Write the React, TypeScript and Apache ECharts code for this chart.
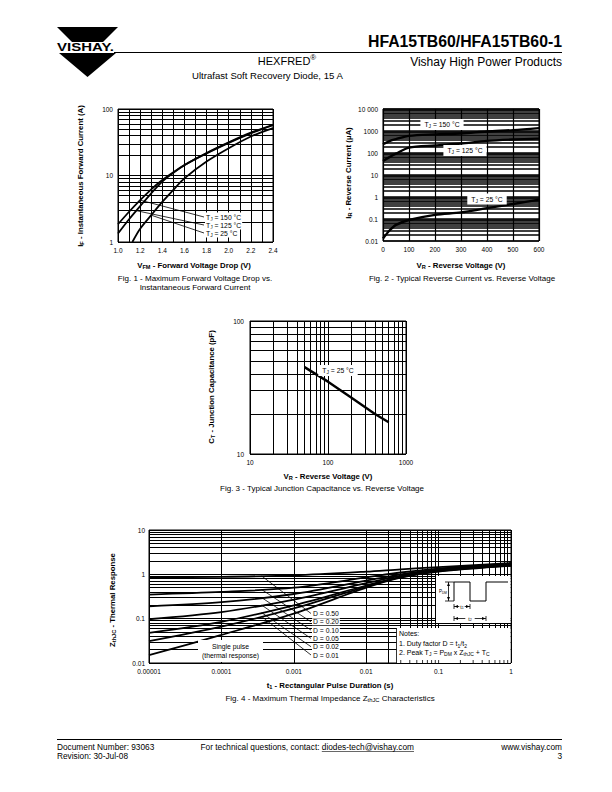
import React, { useEffect, useRef } from "react";
import * as echarts from "echarts";

const FONT = '"Liberation Sans", Arial, Helvetica, sans-serif';

// ---------------- Fig. 1 : forward voltage vs forward current
const fig1V150 = [1.0, 1.1, 1.2, 1.3, 1.4, 1.5, 1.6, 1.8, 2.0, 2.2, 2.4];
const fig1I150 = [1.85, 2.85, 4.26, 6.2, 8.55, 11.2, 14.4, 21.5, 31, 43, 57];
const fig1V125 = [1.0, 1.1, 1.2, 1.3, 1.4, 1.5, 1.6, 1.8, 2.0, 2.2, 2.4];
const fig1I125 = [1.34, 2.2, 3.46, 5.4, 8.1, 11.0, 14.3, 21.8, 31.5, 44, 58];
const fig1V25 = [1.13, 1.2, 1.3, 1.4, 1.5, 1.6, 1.8, 2.0, 2.2, 2.4];
const fig1I25 = [1.0, 1.58, 2.53, 4.0, 6.1, 9.06, 16.2, 25.7, 38.6, 51.6];
const fig1XLabels = ["1.0", "1.2", "1.4", "1.6", "1.8", "2.0", "2.2", "2.4"];
const fig1YLabels = ["1", "10", "100"];

// ---------------- Fig. 2 : reverse current vs reverse voltage
const fig2V = [0, 25, 50, 100, 200, 300, 400, 500, 600];
const fig2I150 = [250, 350, 430, 600, 700, 770, 950, 1100, 1350];
const fig2I125 = [43, 65, 93, 175, 220, 270, 355, 410, 450];
const fig2I25 = [0.013, 0.03, 0.054, 0.09, 0.155, 0.2, 0.31, 0.48, 0.76];
const fig2XLabels = ["0", "100", "200", "300", "400", "500", "600"];
const fig2YLabels = ["0.01", "0.1", "1", "10", "100", "1000", "10 000"];

// ---------------- Fig. 3 : junction capacitance
const fig3V = [50, 100, 200, 400, 600];
const fig3C = [45, 35, 26.5, 20, 17.3];
const fig3XLabels = ["10", "100", "1000"];
const fig3YLabels = ["10", "100"];

// ---------------- Fig. 4 : thermal impedance
const fig4T = [1e-5, 1e-4, 1e-3, 1e-2, 3e-2, 1e-1, 1];
const fig4D50 = [0.86, 0.88, 0.95, 1.15, 1.3, 1.46, 1.8];
const fig4D20 = [0.35, 0.4, 0.5, 0.85, 1.1, 1.35, 1.75];
const fig4D10 = [0.19, 0.235, 0.36, 0.72, 1.0, 1.3, 1.7];
const fig4D05 = [0.097, 0.14, 0.27, 0.63, 0.93, 1.25, 1.65];
const fig4D02 = [0.048, 0.085, 0.2, 0.56, 0.88, 1.2, 1.6];
const fig4D01 = [0.031, 0.066, 0.17, 0.53, 0.86, 1.18, 1.58];
const fig4Single = [0.015, 0.043, 0.13, 0.5, 0.84, 1.15, 1.55];
const fig4DLabels = ["D = 0.50", "D = 0.20", "D = 0.10", "D = 0.05", "D = 0.02", "D = 0.01"];
const fig4XLabels = ["0.00001", "0.0001", "0.001", "0.01", "0.1", "1"];
const fig4YLabels = ["0.01", "0.1", "1", "10"];

const pairs = (xs: number[], ys: number[]) => xs.map((x, i) => [x, ys[i]]);
const logLabel = (labels: string[], minExp: number) => (v: number) => {
  const e = Math.round(Math.log10(v));
  return labels[e - minExp] ?? "";
};
const minorLog = (minExp: number, maxExp: number) => {
  const out: number[] = [];
  for (let e = minExp; e < maxExp; e++) for (let d = 2; d <= 9; d++) out.push(d * Math.pow(10, e));
  return out;
};
const logInterp = (xs: number[], ys: number[], x: number) => {
  const lx = Math.log10(x);
  for (let i = 0; i < xs.length - 1; i++) {
    const a = Math.log10(xs[i]), b = Math.log10(xs[i + 1]);
    if (lx >= a && lx <= b) {
      const f = (lx - a) / (b - a);
      return Math.pow(10, Math.log10(ys[i]) + f * (Math.log10(ys[i + 1]) - Math.log10(ys[i])));
    }
  }
  return ys[0];
};

const TICK = 6.5;
const TITLE = 7.8;
const CAP = 8;

const tickLabel = (formatter: any, margin = 5) => ({
  fontSize: TICK, color: "#000", fontFamily: FONT, margin, formatter,
});
const split = (width = 1) => ({ show: true, lineStyle: { color: "#000", width, type: "solid" } });
const noAxis = { axisLine: { show: false }, axisTick: { show: false } };

function gridSeries(i: number, anchor: number[], hVals: number[], vVals: number[], width: number) {
  return {
    type: "line", xAxisIndex: i, yAxisIndex: i, data: [anchor], symbol: "none", silent: true, z: 1,
    lineStyle: { opacity: 0 },
    markLine: {
      silent: true, symbol: ["none", "none"], label: { show: false }, animation: false,
      lineStyle: { color: "#000", width, type: "solid" },
      emphasis: { disabled: true },
      data: [...hVals.map((v) => ({ yAxis: v })), ...vVals.map((v) => ({ xAxis: v }))],
    },
  };
}
function curve(i: number, data: number[][], width: number, smooth: any = 0.3) {
  return {
    type: "line", xAxisIndex: i, yAxisIndex: i, data, symbol: "none", showSymbol: false, smooth,
    silent: true, z: 5, lineStyle: { color: "#000", width },
  };
}

function rich(size: number, weight: string) {
  const sub = Math.round(size * 0.72 * 10) / 10;
  return {
    n: { fontSize: size, fontWeight: weight, fontFamily: FONT, fill: "#000" },
    s: { fontSize: sub, fontWeight: weight, fontFamily: FONT, fill: "#000", padding: [size * 0.6, 0, 0, 0] },
    u: { fontSize: sub, fontWeight: weight, fontFamily: FONT, fill: "#000", padding: [0, 0, size * 0.7, 0] },
  };
}
function T(x: number, y: number, text: string, o: any = {}) {
  const size = o.size ?? 7;
  const weight = o.bold ? "bold" : "normal";
  const align = o.align ?? "left";
  return {
    type: "text", x, y, z: o.z ?? 60, rotation: o.rot ?? 0, scaleX: o.sx ?? 1,
    style: {
      text, fill: "#000", fontSize: size, fontFamily: FONT, fontWeight: weight,
      align, verticalAlign: "middle", textAlign: align, textVerticalAlign: "middle",
      rich: rich(size, weight), backgroundColor: o.bg, padding: o.pad,
    },
  };
}
const L = (x1: number, y1: number, x2: number, y2: number, w = 0.8) => ({
  type: "line", z: 60, shape: { x1, y1, x2, y2 }, style: { stroke: "#000", lineWidth: w },
});
const R = (x: number, y: number, width: number, height: number, fill = "#fff") => ({
  type: "rect", z: 55, shape: { x, y, width, height }, style: { fill, stroke: null },
});
const P = (points: number[][], w = 1) => ({
  type: "polyline", z: 60, shape: { points }, style: { stroke: "#000", lineWidth: w, fill: null },
});
const G = (points: number[][]) => ({
  type: "polygon", z: 60, shape: { points }, style: { fill: "#000", stroke: null },
});

function measure(text: string, size: number) {
  const c = document.createElement("canvas").getContext("2d")!;
  c.font = `${size}px ${FONT}`;
  return c.measureText(text).width;
}

function buildOption() {
  const grids = [
    { left: 118, top: 109, width: 155, height: 133 },
    { left: 383, top: 109, width: 156, height: 132 },
    { left: 250, top: 321, width: 156, height: 133 },
    { left: 149, top: 530, width: 362, height: 133 },
  ].map((g) => ({ ...g, show: true, borderColor: "#000", borderWidth: 1, backgroundColor: "transparent" }));

  const xAxis = [
    {
      gridIndex: 0, type: "value", min: 1.0, max: 2.4, interval: 0.1, ...noAxis,
      axisLabel: tickLabel((v: number) => {
        const k = Math.round((v - 1) * 10);
        return k % 2 === 0 ? fig1XLabels[k / 2] : "";
      }),
      splitLine: split(1),
    },
    {
      gridIndex: 1, type: "value", min: 0, max: 600, interval: 100, ...noAxis,
      axisLabel: tickLabel((v: number) => fig2XLabels[Math.round(v / 100)] ?? ""),
      splitLine: split(1.2),
    },
    {
      gridIndex: 2, type: "log", logBase: 10, min: 10, max: 1000, ...noAxis,
      axisLabel: tickLabel(logLabel(fig3XLabels, 1)),
      splitLine: split(1),
    },
    {
      gridIndex: 3, type: "log", logBase: 10, min: 1e-5, max: 1, ...noAxis,
      axisLabel: tickLabel(logLabel(fig4XLabels, -5)),
      splitLine: split(1),
    },
  ];
  const yAxis = [
    {
      gridIndex: 0, type: "log", logBase: 10, min: 1, max: 100, ...noAxis,
      axisLabel: tickLabel(logLabel(fig1YLabels, 0)), splitLine: split(1),
    },
    {
      gridIndex: 1, type: "log", logBase: 10, min: 0.01, max: 10000, ...noAxis,
      axisLabel: tickLabel(logLabel(fig2YLabels, -2)), splitLine: split(1.6),
    },
    {
      gridIndex: 2, type: "log", logBase: 10, min: 10, max: 100, ...noAxis,
      axisLabel: tickLabel(logLabel(fig3YLabels, 1), 6), splitLine: split(1),
    },
    {
      gridIndex: 3, type: "log", logBase: 10, min: 0.01, max: 10, ...noAxis,
      axisLabel: tickLabel(logLabel(fig4YLabels, -2), 4), splitLine: split(1),
    },
  ];

  const series: any[] = [
    gridSeries(0, [fig1V150[0], fig1I150[0]], minorLog(0, 2), [], 1),
    gridSeries(1, [fig2V[0], fig2I150[0]], minorLog(-2, 4), [], 1.6),
    gridSeries(2, [fig3V[0], fig3C[0]], minorLog(1, 2), minorLog(1, 3), 1),
    gridSeries(3, [fig4T[0], fig4D50[0]], minorLog(-2, 1), minorLog(-5, 0), 1),

    curve(0, pairs(fig1V150, fig1I150), 1.8),
    curve(0, pairs(fig1V125, fig1I125), 1.8),
    curve(0, pairs(fig1V25, fig1I25), 1.8),

    curve(1, pairs(fig2V, fig2I150), 2.4),
    curve(1, pairs(fig2V, fig2I125), 2.4),
    curve(1, pairs(fig2V, fig2I25), 2.4),

    curve(2, pairs(fig3V, fig3C), 2.4, false),

    curve(3, pairs(fig4T, fig4D50), 1.8),
    curve(3, pairs(fig4T, fig4D20), 1.8),
    curve(3, pairs(fig4T, fig4D10), 1.8),
    curve(3, pairs(fig4T, fig4D05), 1.8),
    curve(3, pairs(fig4T, fig4D02), 1.8),
    curve(3, pairs(fig4T, fig4D01), 1.8),
    curve(3, pairs(fig4T, fig4Single), 1.8),
  ];

  return {
    animation: false,
    backgroundColor: "#fff",
    textStyle: { fontFamily: FONT },
    grid: grids,
    xAxis,
    yAxis,
    series,
  };
}

function buildGraphics(px: (gi: number, pt: number[]) => number[]) {
  const els: any[] = [];

  // ---- header
  els.push(G([[57, 27], [118, 27], [103, 42], [72, 42]]));
  els.push({ ...T(57, 47.5, "VISHAY.", { size: 10, bold: true, sx: 1.5 }), z: 60 });
  els.push(G([[59, 53], [116, 53], [87.5, 77]]));
  els.push(T(562, 41, "HFA15TB60/HFA15TB60-1", { size: 15.8, bold: true, align: "right" }));
  els.push(L(114, 52.5, 562, 52.5, 1));
  els.push(T(287, 61, "{n|HEXFRED}{u|®}", { size: 11, align: "center" }));
  els.push(T(562, 61.5, "Vishay High Power Products", { size: 12, align: "right" }));
  els.push(T(192, 75, "Ultrafast Soft Recovery Diode, 15 A", { size: 9.6 }));

  // ---- footer
  const FS = 8.3;
  els.push(L(57, 739.5, 562, 739.5, 1));
  els.push(T(57, 746.5, "Document Number: 93063", { size: FS }));
  els.push(T(57, 755.5, "Revision: 30-Jul-08", { size: FS }));
  const pre = "For technical questions, contact: ";
  const mail = "diodes-tech@vishay.com";
  const pw = measure(pre, FS);
  const mw = measure(mail, FS);
  const fx = 414 - pw - mw;
  els.push(T(fx, 746.5, pre, { size: FS }));
  els.push(T(fx + pw, 746.5, mail, { size: FS }));
  els.push(L(fx + pw, 751.5, fx + pw + mw, 751.5, 0.6));
  els.push(T(562, 746.5, "www.vishay.com", { size: FS, align: "right" }));
  els.push(T(562, 755.5, "3", { size: FS, align: "right" }));

  // ---- Fig. 1 texts
  els.push(T(80, 176, "{n|I}{s|F}{n| - Instantaneous Forward Current (A)}", { size: TITLE, bold: true, rot: Math.PI / 2, align: "center" }));
  els.push(T(194, 265, "{n|V}{s|FM}{n| - Forward Voltage Drop (V)}", { size: TITLE, bold: true, align: "center" }));
  els.push(T(195, 278, "Fig. 1 - Maximum Forward Voltage Drop vs.", { size: CAP, align: "center" }));
  els.push(T(195, 287, "Instantaneous Forward Current", { size: CAP, align: "center" }));
  const f1Labels = ["{n|T}{s|J}{n| = 150 °C}", "{n|T}{s|J}{n| = 125 °C}", "{n|T}{s|J}{n| = 25 °C}"];
  const f1Anchors = [
    px(0, [1.2, fig1I150[2]]),
    px(0, [1.17, 2.95]),
    px(0, [1.3, fig1I25[2]]),
  ];
  const f1Ys = [217, 225, 233];
  f1Labels.forEach((t, i) => {
    els.push(L(f1Anchors[i][0], f1Anchors[i][1], 204, f1Ys[i], 0.8));
    els.push(T(205, f1Ys[i], t, { size: 6.8, bg: "#fff", pad: [0, 1, 0, 1] }));
  });

  // ---- Fig. 2 texts
  els.push(T(348, 173, "{n|I}{s|R}{n| - Reverse Current (µA)}", { size: TITLE, bold: true, rot: Math.PI / 2, align: "center" }));
  els.push(T(461, 265, "{n|V}{s|R}{n| - Reverse Voltage (V)}", { size: TITLE, bold: true, align: "center" }));
  els.push(T(462, 278, "Fig. 2 - Typical Reverse Current vs. Reverse Voltage", { size: CAP, align: "center" }));
  els.push(T(442, 124.5, "{n|T}{s|J}{n| = 150 °C}", { size: 6.8, bg: "#fff", pad: [1, 4, 1, 4], align: "center" }));
  els.push(T(465, 150.5, "{n|T}{s|J}{n| = 125 °C}", { size: 6.8, bg: "#fff", pad: [1, 4, 1, 4], align: "center" }));
  els.push(T(487, 199, "{n|T}{s|J}{n| = 25 °C}", { size: 6.8, bg: "#fff", pad: [1, 4, 1, 4], align: "center" }));

  // ---- Fig. 3 texts
  els.push(T(211, 387, "{n|C}{s|T}{n| - Junction Capacitance (pF)}", { size: TITLE, bold: true, rot: Math.PI / 2, align: "center" }));
  els.push(T(328, 476, "{n|V}{s|R}{n| - Reverse Voltage (V)}", { size: TITLE, bold: true, align: "center" }));
  els.push(T(322, 488, "Fig. 3 - Typical Junction Capacitance vs. Reverse Voltage", { size: CAP, align: "center" }));
  els.push(T(338, 370.5, "{n|T}{s|J}{n| = 25 °C}", { size: 6.8, bg: "#fff", pad: [1, 4, 1, 4], align: "center" }));

  // ---- Fig. 4 texts
  els.push(T(112, 600, "{n|Z}{s|thJC}{n| - Thermal Response}", { size: TITLE, bold: true, rot: Math.PI / 2, align: "center" }));
  els.push(T(330, 685, "{n|t}{s|1}{n| - Rectangular Pulse Duration (s)}", { size: TITLE, bold: true, align: "center" }));
  els.push(T(330, 698, "{n|Fig. 4 - Maximum Thermal Impedance Z}{s|thJC}{n| Characteristics}", { size: CAP, align: "center" }));

  const fig4Sets = [fig4D50, fig4D20, fig4D10, fig4D05, fig4D02, fig4D01];
  const tAnchor = 3.6e-4;
  fig4DLabels.forEach((lab, i) => {
    const a = px(3, [tAnchor, logInterp(fig4T, fig4Sets[i], tAnchor)]);
    const ly = 613.5 + 8.3 * i;
    els.push(L(a[0], a[1], 311, ly, 0.8));
    els.push(T(312, ly, lab, { size: 6.8, bg: "#fff", pad: [0, 1, 0, 1] }));
  });

  // single pulse box
  els.push(R(198, 640, 65, 22));
  els.push(T(230.5, 646.5, "Single pulse", { size: 6.8, align: "center" }));
  els.push(T(230.5, 655.5, "(thermal response)", { size: 6.8, align: "center" }));

  // notes box
  els.push(R(396.5, 628, 114, 35));
  els.push(L(396.5, 628, 396.5, 663, 0.8));
  els.push(T(399, 633.5, "Notes:", { size: 7 }));
  els.push(T(399, 643.5, "{n|1. Duty factor D = t}{s|1}{n|/t}{s|2}", { size: 7 }));
  els.push(T(399, 652, "{n|2. Peak T}{s|J}{n| = P}{s|DM}{n| x Z}{s|thJC}{n| + T}{s|C}", { size: 7 }));
  // minor ticks along the bottom axis under the notes box
  const bottom = px(3, [1, 0.01])[1];
  [...minorLog(-2, 0), 0.1].forEach((t) => {
    const p = px(3, [t, 0.01]);
    if (p[0] > 397) els.push(L(p[0], bottom, p[0], bottom - 3, 0.8));
  });

  // inset pulse diagram
  els.push(R(436, 576, 74.5, 47));
  els.push(P([[454, 601], [454, 582], [470, 582], [470, 601], [486, 601], [486, 582], [508, 582]], 1));
  els.push(L(445, 582, 454, 582, 0.8));
  els.push(L(445, 601, 454, 601, 0.8));
  els.push(L(448.5, 582, 448.5, 601, 0.8));
  els.push(G([[448.5, 582.5], [447, 586], [450, 586]]));
  els.push(G([[448.5, 600.5], [447, 597], [450, 597]]));
  els.push(T(447, 591.5, "{n|P}{s|DM}", { size: 4.5, align: "right" }));
  // t1
  els.push(L(454, 604, 454, 609, 0.8));
  els.push(L(470, 604, 470, 609, 0.8));
  els.push(L(454, 606.5, 470, 606.5, 0.8));
  els.push(G([[454.5, 606.5], [458, 605], [458, 608]]));
  els.push(G([[469.5, 606.5], [466, 605], [466, 608]]));
  els.push(T(462, 606.5, "{n|t}{s|1}", { size: 5, align: "center", bg: "#fff", pad: [0, 1, 0, 1] }));
  // t2
  els.push(L(454, 616, 454, 621, 0.8));
  els.push(L(486, 616, 486, 621, 0.8));
  els.push(L(454, 618.5, 486, 618.5, 0.8));
  els.push(G([[454.5, 618.5], [458, 617], [458, 620]]));
  els.push(G([[485.5, 618.5], [482, 617], [482, 620]]));
  els.push(T(470, 618.5, "{n|t}{s|2}", { size: 5, align: "center", bg: "#fff", pad: [0, 3, 0, 3] }));

  return els;
}

export default function App() {
  const ref = useRef<HTMLDivElement>(null);
  useEffect(() => {
    const chart = echarts.init(ref.current!, null, { renderer: "svg" });
    chart.setOption(buildOption() as any);
    const px = (gi: number, pt: number[]) =>
      chart.convertToPixel({ gridIndex: gi } as any, pt) as unknown as number[];
    chart.setOption({ graphic: { elements: buildGraphics(px) } } as any);
    return () => chart.dispose();
  }, []);
  return (
    <div
      ref={ref}
      style={{ position: "fixed", left: 0, top: 0, width: 612, height: 792, background: "#fff" }}
    />
  );
}
